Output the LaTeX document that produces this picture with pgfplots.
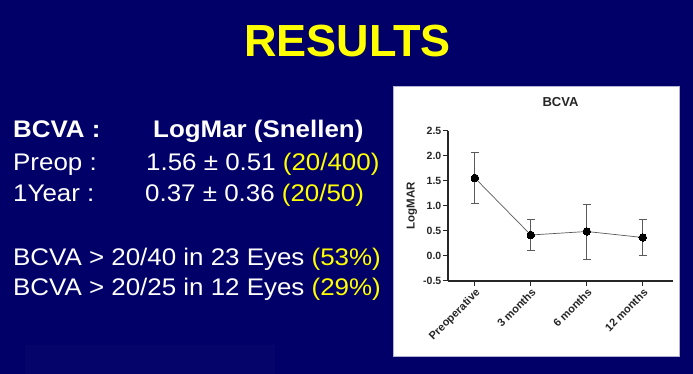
\documentclass[border=0pt]{standalone}
\usepackage{pgfplots}
\pgfplotsset{compat=1.18}
\usepackage{fontspec}
\setmainfont{Liberation Sans}
\newfontfamily\slidefont[FakeStretch=1.08]{Liberation Sans}
\definecolor{navy}{RGB}{1,0,104}
\definecolor{slideyellow}{RGB}{255,255,0}
\definecolor{bargray}{RGB}{90,90,90}
\newcommand{\body}{\slidefont\fontsize{24}{28}\selectfont}
\begin{document}
\begin{tikzpicture}[x=1pt,y=1pt]
\fill[navy] (0,0) rectangle (693,374);
\fill[white!1.5!navy] (25,0) rectangle (275,29);
\fill[white] (393,18) rectangle (679,288);
\draw[white!70!navy, line width=0.6pt] (393,18) rectangle (679,288);
% title
\node[anchor=base, inner sep=0, text=slideyellow, font=\fontsize{45}{50}\selectfont\bfseries] at (347.5,317) {RESULTS};
% text block
\node[anchor=base west, inner sep=0, text=white, font=\body\bfseries] at (13,236) {BCVA :};
\node[anchor=base west, inner sep=0, text=white, font=\body\bfseries] at (153,236) {LogMar (Snellen)};
\node[anchor=base west, inner sep=0, text=white, font=\body] at (13,203) {Preop :};
\node[anchor=base west, inner sep=0, text=white, font=\body] at (146,203) {1.56 ± 0.51 \textcolor{slideyellow}{(20/400)}};
\node[anchor=base west, inner sep=0, text=white, font=\body] at (13,172.5) {1Year :};
\node[anchor=base west, inner sep=0, text=white, font=\body] at (145,172.5) {0.37 ± 0.36 \textcolor{slideyellow}{(20/50)}};
\node[anchor=base west, inner sep=0, text=white, font=\body] at (13,108) {BCVA > 20/40 in 23 Eyes \textcolor{slideyellow}{(53\%)}};
\node[anchor=base west, inner sep=0, text=white, font=\body] at (13,78) {BCVA > 20/25 in 12 Eyes \textcolor{slideyellow}{(29\%)}};
% chart
\begin{axis}[
  at={(448pt,93pt)}, anchor=south west,
  scale only axis, width=225pt, height=150pt,
  xmin=-0.48, xmax=3.54, ymin=-0.5, ymax=2.5,
  axis lines=left,
  axis line style={-, line width=1.1pt, black!85},
  xtick={0,1,2,3},
  xticklabels={Preoperative,3 months,6 months,12 months},
  ytick={-0.5,0,0.5,1,1.5,2,2.5},
  /pgf/number format/fixed,
  /pgf/number format/fixed zerofill,
  /pgf/number format/precision=1,
  /pgf/number format/assume math mode=true,
  tick align=outside,
  major tick length=5pt,
  tick style={line width=1pt, black!85},
  ticklabel style={font=\fontsize{10.5}{11}\selectfont\bfseries, text=black!85},
  x tick label style={rotate=45, anchor=north east, inner sep=1pt, font=\fontsize{11}{12}\selectfont\bfseries},
  y tick label style={inner sep=1.5pt},
  title={BCVA},
  title style={at={(axis description cs:0.5,1)}, anchor=base, yshift=18pt, font=\fontsize{13}{15}\selectfont\bfseries, text=black!85},
  ylabel={LogMAR},
  ylabel style={at={(axis description cs:-0.16,0.5)}, anchor=center, font=\fontsize{11.5}{13}\selectfont\bfseries, text=black!85},
  clip=false,
]
\addplot[bargray, line width=0.7pt, mark=*, mark size=3.8pt, mark options={black, fill=black, line width=0pt},
  error bars/.cd, y dir=both, y explicit,
  error bar style={bargray, line width=0.8pt},
  error mark options={rotate=90, bargray, line width=0.8pt, mark size=4pt}]
coordinates {
  (0,1.56) +- (0,0.51)
  (1,0.42) +- (0,0.31)
  (2,0.49) +- (0,0.55)
  (3,0.37) +- (0,0.36)
};
\end{axis}
\end{tikzpicture}
\end{document}
